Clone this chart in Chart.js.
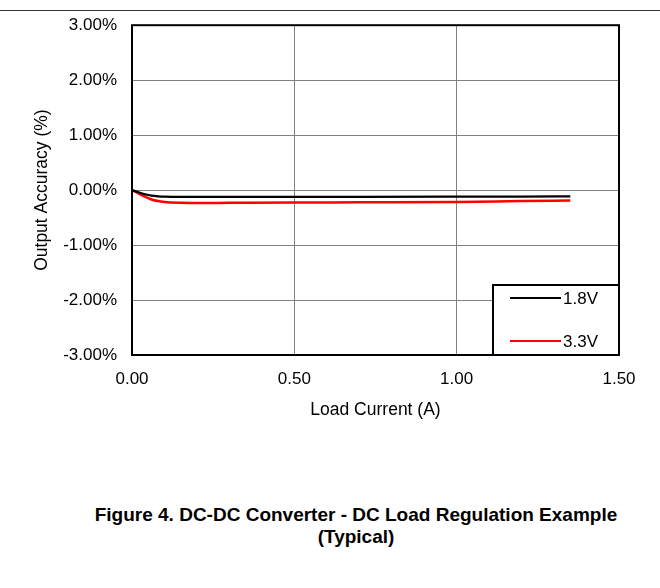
<!DOCTYPE html>
<html>
<head>
<meta charset="utf-8">
<script src="https://cdn.jsdelivr.net/npm/chart.js@4"></script>
<style>
  body { margin: 0; background: #fff; font-family: "Liberation Sans", Arial, sans-serif; }
  #wrap { position: relative; width: 660px; height: 588px; }
  #topline { position: absolute; left: 0; top: 10px; width: 660px; height: 1px; background: #333; }
  #chartBox { position: absolute; left: 0; top: 0; width: 660px; height: 460px; }
  #caption { position: absolute; left: 56px; top: 504px; width: 600px; text-align: center;
             font-weight: bold; font-size: 19px; line-height: 22px; color: #000; }
</style>
</head>
<body>
<div id="wrap">
  <div id="chartBox"><canvas id="regChart"></canvas></div>
  <div id="topline"></div>
  <div id="caption">Figure 4. DC-DC Converter - DC Load Regulation Example<br>(Typical)</div>
</div>
<script>
const current = [0, 0.02, 0.04, 0.06, 0.08, 0.1, 0.15, 0.2, 0.3, 0.5, 0.7, 1.0, 1.2, 1.35];
const acc18 = [0, -0.04, -0.075, -0.1, -0.113, -0.12, -0.125, -0.125, -0.125, -0.124, -0.123, -0.12, -0.117, -0.115];
const acc33 = [0, -0.06, -0.12, -0.17, -0.2, -0.215, -0.23, -0.235, -0.232, -0.226, -0.222, -0.215, -0.2, -0.19];
const seriesNames = ['1.8V', '3.3V'];
const seriesColors = ['#000000', '#ff0000'];

const toPoints = vals => vals.map((v, i) => ({ x: current[i], y: v }));
const TICK_FONT = { family: '"Liberation Sans", Arial, sans-serif', size: 17 };
const TITLE_FONT = { family: '"Liberation Sans", Arial, sans-serif', size: 17.5 };

// frame around plot + boxed legend in lower right
const framePlugin = {
    id: 'frame',
    afterDraw(chart) {
        const { ctx, chartArea: a } = chart;
        ctx.save();
        ctx.strokeStyle = '#000';
        ctx.lineWidth = 2;
        ctx.strokeRect(a.left, a.top, a.right - a.left, a.bottom - a.top);

        const w = 126, h = 70;
        const bx = a.right - w, by = a.bottom - h;
        ctx.fillStyle = '#fff';
        ctx.fillRect(bx, by, w, h);
        ctx.strokeRect(bx, by, w, h);
        ctx.font = '17px "Liberation Sans", Arial, sans-serif';
        ctx.textBaseline = 'middle';
        seriesNames.forEach((name, i) => {
            const y = by + 13 + i * 43;
            ctx.strokeStyle = seriesColors[i];
            ctx.lineWidth = 2;
            ctx.beginPath();
            ctx.moveTo(bx + 17, y);
            ctx.lineTo(bx + 68, y);
            ctx.stroke();
            ctx.fillStyle = '#000';
            ctx.fillText(name, bx + 70, y + 1);
        });
        ctx.restore();
    }
};

new Chart(document.getElementById('regChart'), {
    type: 'line',
    data: {
        datasets: [
            { label: seriesNames[0], data: toPoints(acc18), borderColor: seriesColors[0], borderWidth: 2.2 },
            { label: seriesNames[1], data: toPoints(acc33), borderColor: seriesColors[1], borderWidth: 2.5 }
        ]
    },
    options: {
        responsive: true,
        maintainAspectRatio: false,
        animation: false,
        layout: { padding: { left: 0, right: 41, top: 24, bottom: 35 } },
        elements: { point: { radius: 0 }, line: { cubicInterpolationMode: 'monotone' } },
        plugins: { legend: { display: false }, tooltip: { enabled: false } },
        scales: {
            x: {
                type: 'linear', min: 0, max: 1.5,
                afterFit(s) { s.height = 70; },
                ticks: { stepSize: 0.5, color: '#000', font: TICK_FONT, padding: 14, maxRotation: 0,
                         callback: v => v.toFixed(2) },
                grid: { color: '#808080', lineWidth: 1, drawTicks: false },
                border: { display: false },
                title: { display: true, text: 'Load Current (A)', color: '#000', font: TITLE_FONT,
                         padding: { top: 0, bottom: 4 } }
            },
            y: {
                min: -3, max: 3,
                afterFit(s) { s.width = 132; },
                ticks: { stepSize: 1, color: '#000', font: TICK_FONT, padding: 15,
                         callback: v => v.toFixed(2) + '%' },
                grid: { color: '#808080', lineWidth: 1, drawTicks: false },
                border: { display: false },
                title: { display: true, text: 'Output Accuracy (%)', color: '#000', font: TITLE_FONT,
                         padding: { top: 32, bottom: 0 } }
            }
        }
    },
    plugins: [framePlugin]
});
</script>
</body>
</html>
